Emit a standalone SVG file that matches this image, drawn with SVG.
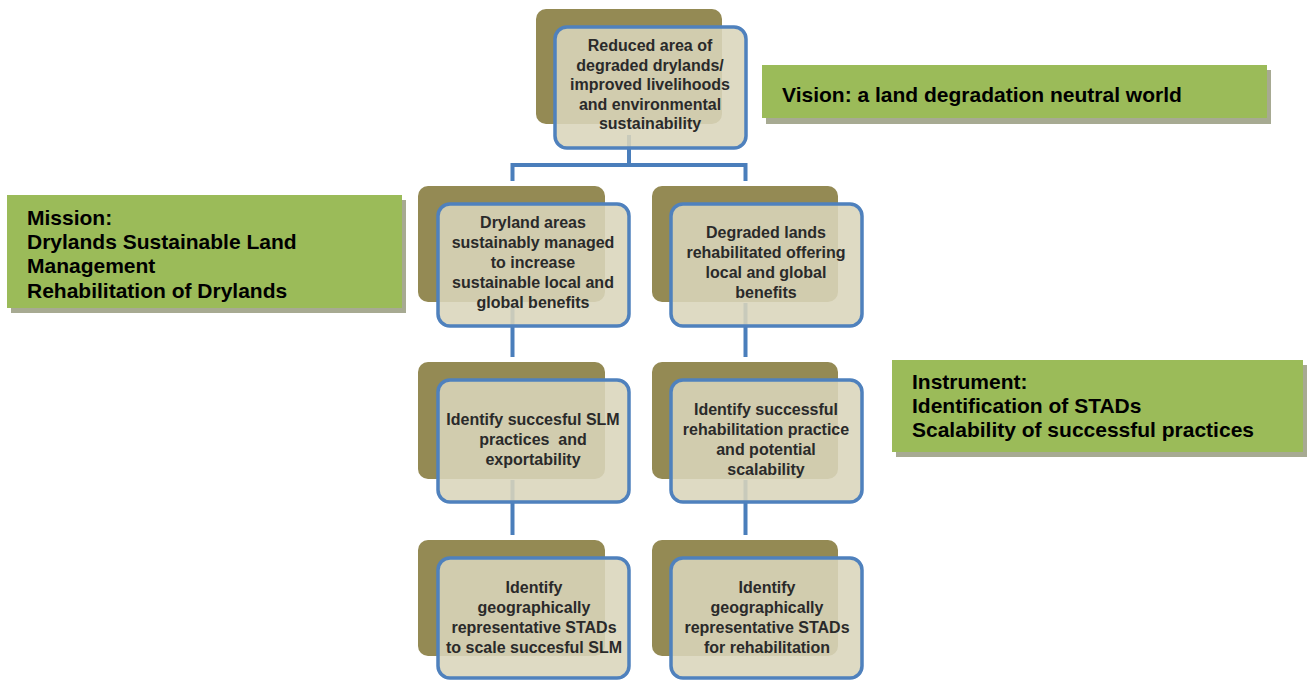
<svg xmlns="http://www.w3.org/2000/svg" width="1311" height="680" viewBox="0 0 1311 680">
<style>
.back{fill:#948a54;}
.front{fill:#d9d5bb;fill-opacity:0.88;stroke:#4f81bd;stroke-width:3.5;}
.conn{fill:none;stroke:#4a7ebb;stroke-width:4;}
.nt{font-family:"Liberation Sans",Arial,sans-serif;font-size:16px;font-weight:bold;fill:#2a2a2a;text-anchor:middle;}
.green{fill:#9bbb59;}
.shadow{fill:#a7aa92;}
.gt{font-family:"Liberation Sans",Arial,sans-serif;font-size:21px;font-weight:bold;fill:#000;}
</style>
<rect width="1311" height="680" fill="#fff"/>
<g id="connectors">
<path class="conn" d="M629,135 V165 M512.5,181 V165 H745.5 V181"/>
<path class="conn" d="M512.5,303 V357 M745.5,303 V357"/>
<path class="conn" d="M512.5,480 V535 M745.5,480 V535"/>
</g>
<g id="n1">
<rect class="back" x="536" y="9" width="186" height="115" rx="10"/>
<rect class="front" x="555" y="27" width="191" height="121" rx="12"/>
<text class="nt" x="650" y="51">Reduced area of</text>
<text class="nt" x="650" y="70.5">degraded drylands/</text>
<text class="nt" x="650" y="90">improved livelihoods</text>
<text class="nt" x="650" y="109.5">and environmental</text>
<text class="nt" x="650" y="129">sustainability</text>
</g>
<g id="n2">
<rect class="back" x="418" y="186" width="187" height="116" rx="10"/>
<rect class="front" x="438" y="204" width="191" height="122" rx="12"/>
<text class="nt" x="533" y="228">Dryland areas</text>
<text class="nt" x="533" y="248">sustainably managed</text>
<text class="nt" x="533" y="268">to increase</text>
<text class="nt" x="533" y="288">sustainable local and</text>
<text class="nt" x="533" y="308">global benefits</text>
</g>
<g id="n3">
<rect class="back" x="652" y="186" width="186" height="116" rx="10"/>
<rect class="front" x="671" y="204" width="191" height="122" rx="12"/>
<text class="nt" x="766" y="238">Degraded lands</text>
<text class="nt" x="766" y="258">rehabilitated offering</text>
<text class="nt" x="766" y="278">local and global</text>
<text class="nt" x="766" y="298">benefits</text>
</g>
<g id="n4">
<rect class="back" x="418" y="362" width="187" height="117" rx="10"/>
<rect class="front" x="438" y="380" width="191" height="122" rx="12"/>
<text class="nt" x="533" y="425">Identify succesful SLM</text>
<text class="nt" x="533" y="445" xml:space="preserve">practices  and</text>
<text class="nt" x="533" y="465">exportability</text>
</g>
<g id="n5">
<rect class="back" x="652" y="362" width="186" height="117" rx="10"/>
<rect class="front" x="671" y="380" width="191" height="122" rx="12"/>
<text class="nt" x="766" y="415">Identify successful</text>
<text class="nt" x="766" y="435">rehabilitation practice</text>
<text class="nt" x="766" y="455">and potential</text>
<text class="nt" x="766" y="475">scalability</text>
</g>
<g id="n6">
<rect class="back" x="418" y="540" width="187" height="116" rx="10"/>
<rect class="front" x="438" y="558" width="191" height="120" rx="12"/>
<text class="nt" x="534" y="593">Identify</text>
<text class="nt" x="534" y="613">geographically</text>
<text class="nt" x="534" y="633">representative STADs</text>
<text class="nt" x="534" y="653">to scale succesful SLM</text>
</g>
<g id="n7">
<rect class="back" x="652" y="540" width="186" height="116" rx="10"/>
<rect class="front" x="671" y="558" width="191" height="120" rx="12"/>
<text class="nt" x="767" y="593">Identify</text>
<text class="nt" x="767" y="613">geographically</text>
<text class="nt" x="767" y="633">representative STADs</text>
<text class="nt" x="767" y="653">for rehabilitation</text>
</g>
<g id="vision">
<rect class="shadow" x="766" y="70" width="505" height="54"/>
<rect class="green" x="762" y="65" width="505" height="53"/>
<text class="gt" x="782" y="102">Vision: a land degradation neutral world</text>
</g>
<g id="mission">
<rect class="shadow" x="11" y="200" width="395" height="113"/>
<rect class="green" x="7" y="195" width="395" height="113"/>
<text class="gt" x="27" y="225">Mission:</text>
<text class="gt" x="27" y="249">Drylands Sustainable Land</text>
<text class="gt" x="27" y="273">Management</text>
<text class="gt" x="27" y="298">Rehabilitation of Drylands</text>
</g>
<g id="instrument">
<rect class="shadow" x="896" y="365" width="411" height="92"/>
<rect class="green" x="892" y="360" width="411" height="92"/>
<text class="gt" x="912" y="389">Instrument:</text>
<text class="gt" x="912" y="413">Identification of STADs</text>
<text class="gt" x="912" y="437">Scalability of successful practices</text>
</g>
</svg>
